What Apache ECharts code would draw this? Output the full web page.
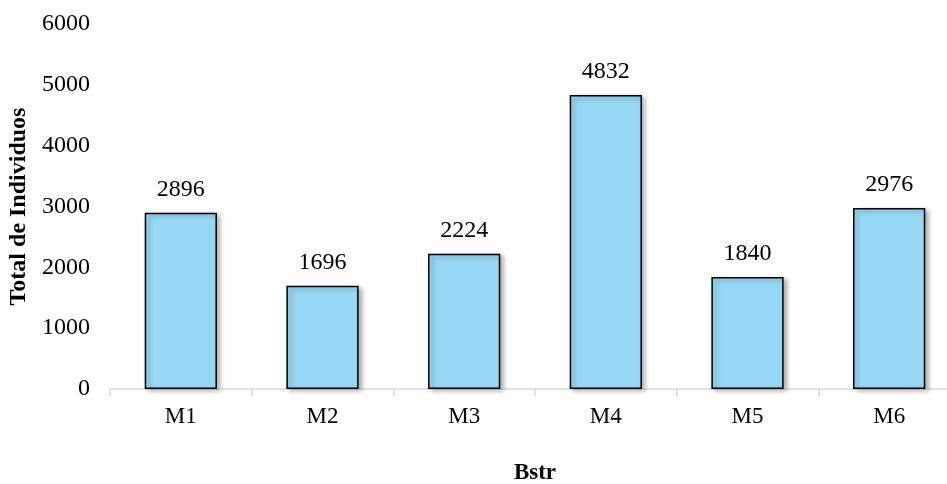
<!DOCTYPE html>
<html><head><meta charset="utf-8">
<script src="https://cdn.jsdelivr.net/npm/echarts@6/dist/echarts.min.js"></script>
<style>html,body{margin:0;padding:0;background:#fff;overflow:hidden}#c{width:947px;height:484px}</style>
</head><body><div id="c"></div>
<script>
const categories = ['M1','M2','M3','M4','M5','M6'];
const values = [2896, 1696, 2224, 4832, 1840, 2976];
const yTicks = [0, 1000, 2000, 3000, 4000, 5000, 6000];
const font = '"Liberation Serif", "Times New Roman", serif';
const chart = echarts.init(document.getElementById('c'));
chart.setOption({
  animation: false,
  grid: {left: 110, right: -13, top: 24, bottom: 95, containLabel: false, outerBoundsMode: 'none'},
  xAxis: {
    type: 'category', data: categories,
    name: 'Bstr', nameLocation: 'middle', nameGap: 73,
    nameTextStyle: {fontFamily: font, fontWeight: 'bold', fontSize: 23, color: '#000'},
    axisLine: {lineStyle: {color: '#d9d9d9', width: 1.5}},
    axisTick: {show: true, length: 7, lineStyle: {color: '#d9d9d9', width: 1.5}},
    axisLabel: {fontFamily: font, fontSize: 23, color: '#000', margin: 16}
  },
  yAxis: {
    type: 'value', min: yTicks[0], max: yTicks[yTicks.length-1], interval: 1000,
    name: 'Total de Individuos', nameLocation: 'middle', nameGap: 77,
    nameTextStyle: {fontFamily: font, fontWeight: 'bold', fontSize: 24, color: '#000'},
    axisLine: {show: false}, axisTick: {show: false}, splitLine: {show: false},
    axisLabel: {fontFamily: font, fontSize: 24, color: '#000', margin: 20,
      formatter: v => String(v)}
  },
  series: [{
    type: 'bar', data: values, barWidth: '51%',
    itemStyle: {color: '#97d9f5', borderColor: '#000', borderWidth: 1.5,
      shadowBlur: 5, shadowOffsetX: 3, shadowOffsetY: 2, shadowColor: 'rgba(0,0,0,0.35)'},
    label: {show: true, position: 'top', distance: 11, fontFamily: font, fontSize: 24, color: '#000'}
  }]
});
</script></body></html>
